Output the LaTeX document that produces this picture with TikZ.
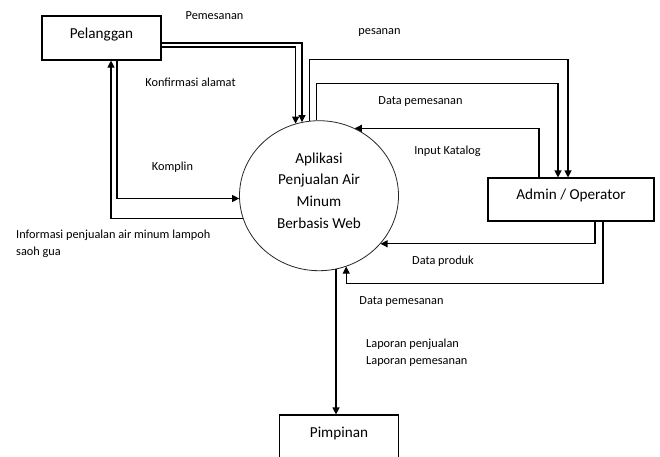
\documentclass[tikz,border=0pt]{standalone}
\usepackage{fontspec}
\setmainfont{Carlito}
\usepackage{tikz}
\usetikzlibrary{shapes.geometric,arrows.meta}
\tikzset
{
    entity/.style  = {rectangle, draw=black, line width=1.1pt, minimum width=119pt, minimum height=44pt, text height=11pt, text depth=11pt, font=\fontsize{15.2}{18}\selectfont},
    process/.style = {ellipse, draw=black!85, line width=0.8pt, minimum width=159pt, minimum height=150pt, inner sep=0pt, align=center, text height=75pt, text depth=10pt, font=\fontsize{15.2}{21.7}\selectfont},
    arrow/.style   = {line width=1.1pt, ->, >={Triangle[length=7pt,width=7pt]}},
    lbl/.style     = {inner sep=0pt, font=\fontsize{12.3}{17.2}\selectfont}
}

\begin{document}
\begin{tikzpicture}[x=1pt, y=-1pt]
	\useasboundingbox (0,0) rectangle (660,456);
	\clip (0,0) rectangle (660,456);
	\node (app) [process] at (319,195.7) {Aplikasi\\Penjualan Air\\Minum\\Berbasis Web};
	\node (plg) [entity, left of=app, node distance=217.5pt, yshift=157.7pt] {Pelanggan};
	\node (adm) [entity, right of=app, node distance=252pt, yshift=-3.8pt, minimum width=166pt, minimum height=43pt] {Admin / Operator};
	\node (pim) [entity, below of=app, node distance=241.3pt, xshift=20pt] {Pimpinan};

	\draw [arrow] ([yshift=-5pt]plg.east) -| (app.103.1);
	\draw [arrow] ([yshift=-9pt]plg.east) -| (app.108.6);
	\draw [arrow] (app.97.7) |- ([xshift=-3pt,yshift=118pt]adm.north) -- ([xshift=-3pt]adm.north);
	\draw [arrow] (app.92.3) |- ([xshift=-13pt,yshift=94pt]adm.north) -- ([xshift=-13pt]adm.north);
	\draw [arrow] ([xshift=-32pt]adm.north) |- (app.62);
	\draw [arrow] ([xshift=24pt]adm.south) |- (app.322.2);
	\draw [arrow] ([xshift=32pt]adm.south) |- ([yshift=-16.8pt]app.291) -- (app.291);
	\draw [arrow] (app.283.8) -- (app.283.8 |- pim.north);
	\draw [arrow] ([xshift=15.5pt]plg.south) |- (app.182.7);
	\draw [arrow] (app.197.4) -| ([xshift=9.5pt]plg.south);

	\node (lpemesanan) [lbl, anchor=base] at (214.5,19) {Pemesanan};
	\node (lkonfirmasi) [lbl, anchor=base] at (190.5,86) {Konfirmasi alamat};
	\node (lkomplin) [lbl, anchor=base] at (172.5,170.5) {Komplin};
	\node (lpesanan) [lbl, anchor=base] at (379.5,34) {pesanan};
	\node (ldata1) [lbl, anchor=base] at (420.5,104) {Data pemesanan};
	\node (lkatalog) [lbl, anchor=base] at (447.5,154) {Input Katalog};
	\node (lproduk) [lbl, anchor=base] at (443,264.5) {Data produk};
	\node (ldata2) [lbl, anchor=base] at (401.5,304) {Data pemesanan};
	\node (linfo) [lbl, anchor=base west, align=left] at (16,255.5) {Informasi penjualan air minum lampoh\\saoh gua};
	\node (llaporan) [lbl, anchor=base west, align=left] at (366,364.5) {Laporan penjualan\\Laporan pemesanan};
\end{tikzpicture}
\end{document}
